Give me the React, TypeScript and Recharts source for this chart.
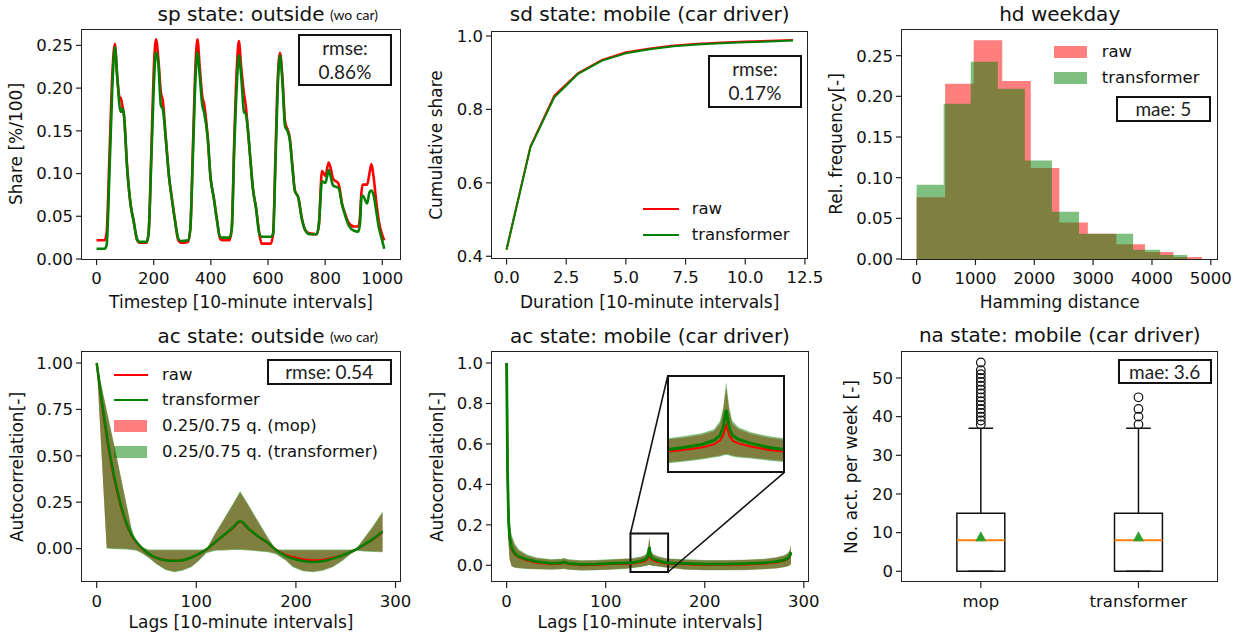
import React from 'react';
import { ComposedChart, Line, Area, XAxis, YAxis, ReferenceArea, ReferenceLine, Scatter } from 'recharts';

const FONT = '"DejaVu Sans", Verdana, sans-serif';
const NOTE_FONT = 'Lato, "Open Sans", sans-serif';
const RED = '#ff0000';
const GREEN = '#008000';
const INK = '#111';

// ---------- Panel 1: sp state: outside ----------
const spTimestep = [0, 28, 35, 45, 55, 64, 72, 80, 85, 90, 96, 107, 119, 130, 142, 150, 175, 182, 192, 200, 208, 216, 225, 232, 242, 254, 263, 275, 286, 295, 320, 328, 338, 346, 353, 361, 370, 376, 389, 399, 410, 422, 432, 440, 465, 473, 482, 491, 498, 506, 516, 522, 530, 537, 547, 558, 570, 578, 610, 618, 626, 634, 642, 650, 660, 668, 676, 686, 694, 706, 718, 730, 745, 770, 778, 789, 801, 812, 818, 828, 847, 859, 871, 883, 901, 916, 922, 927, 932, 947, 955, 962, 970, 978, 988, 1000, 1007];
const spRaw = [0.022, 0.022, 0.030, 0.120, 0.215, 0.252, 0.215, 0.190, 0.188, 0.180, 0.168, 0.107, 0.064, 0.044, 0.022, 0.019, 0.019, 0.030, 0.130, 0.220, 0.257, 0.235, 0.195, 0.185, 0.142, 0.095, 0.072, 0.044, 0.022, 0.019, 0.020, 0.035, 0.140, 0.225, 0.257, 0.225, 0.190, 0.182, 0.142, 0.095, 0.072, 0.044, 0.024, 0.022, 0.022, 0.035, 0.140, 0.225, 0.255, 0.225, 0.193, 0.180, 0.150, 0.122, 0.083, 0.060, 0.029, 0.018, 0.018, 0.030, 0.120, 0.210, 0.241, 0.215, 0.160, 0.152, 0.142, 0.107, 0.080, 0.072, 0.048, 0.034, 0.030, 0.029, 0.040, 0.103, 0.097, 0.113, 0.108, 0.094, 0.088, 0.065, 0.052, 0.042, 0.038, 0.038, 0.050, 0.078, 0.087, 0.087, 0.100, 0.111, 0.095, 0.070, 0.044, 0.028, 0.022];
const spTransformer = [0.012, 0.012, 0.016, 0.100, 0.200, 0.248, 0.215, 0.180, 0.172, 0.176, 0.168, 0.107, 0.064, 0.044, 0.023, 0.020, 0.020, 0.030, 0.120, 0.200, 0.242, 0.230, 0.180, 0.175, 0.142, 0.095, 0.072, 0.044, 0.024, 0.021, 0.022, 0.035, 0.130, 0.210, 0.242, 0.215, 0.180, 0.172, 0.142, 0.095, 0.072, 0.044, 0.026, 0.025, 0.025, 0.035, 0.130, 0.205, 0.238, 0.215, 0.172, 0.170, 0.150, 0.122, 0.083, 0.060, 0.029, 0.026, 0.026, 0.030, 0.110, 0.200, 0.238, 0.210, 0.155, 0.150, 0.140, 0.105, 0.080, 0.072, 0.048, 0.034, 0.029, 0.029, 0.040, 0.091, 0.089, 0.104, 0.098, 0.086, 0.083, 0.064, 0.050, 0.039, 0.033, 0.032, 0.042, 0.072, 0.074, 0.065, 0.078, 0.080, 0.074, 0.058, 0.037, 0.021, 0.012];
const spXTicks = [0, 200, 400, 600, 800, 1000];
const spYTicks = [0, 0.05, 0.1, 0.15, 0.2, 0.25];

// ---------- Panel 2: sd state: mobile (car driver) ----------
const sdDuration = [0, 1, 2, 3, 4, 5, 6, 7, 8, 9, 10, 11, 12];
const sdRaw = [0.419, 0.699, 0.838, 0.899, 0.935, 0.956, 0.966, 0.974, 0.979, 0.982, 0.985, 0.987, 0.989];
const sdTransformer = [0.418, 0.697, 0.833, 0.897, 0.933, 0.953, 0.964, 0.972, 0.977, 0.980, 0.983, 0.985, 0.988];
const sdXTicks = [0, 2.5, 5, 7.5, 10, 12.5];
const sdYTicks = [0.4, 0.6, 0.8, 1.0];

// ---------- Panel 3: hd weekday (histograms) ----------
const hdRawEdges = [0, 485, 970, 1455, 1940, 2425, 2910, 3395, 3880, 4365, 4850];
const hdRawFreq = [0.076, 0.2155, 0.269, 0.219, 0.112, 0.045, 0.031, 0.018, 0.0086, 0.0025];
const hdTrEdges = [0, 460, 920, 1380, 1840, 2300, 2760, 3220, 3680, 4140, 4600];
const hdTrFreq = [0.0914, 0.191, 0.2426, 0.2094, 0.121, 0.058, 0.031, 0.031, 0.0115, 0.005];
const hdXTicks = [0, 1000, 2000, 3000, 4000, 5000];
const hdYTicks = [0, 0.05, 0.1, 0.15, 0.2, 0.25];

// ---------- Panel 4: ac state: outside ----------
const acOutLag = [0, 5, 10, 15, 20, 25, 30, 35, 40, 45, 52, 60, 69, 78, 86, 95, 102, 110, 119, 128, 137, 144, 152, 163, 172, 180, 190, 197, 207, 217, 227, 237, 247, 255, 260, 268, 278, 287];
const acOutRawMean = [1.0, 0.79, 0.605, 0.445, 0.318, 0.212, 0.13, 0.072, 0.033, 0.004, -0.028, -0.05, -0.062, -0.065, -0.062, -0.047, -0.03, -0.005, 0.034, 0.073, 0.112, 0.145, 0.108, 0.062, 0.03, -0.006, -0.035, -0.046, -0.058, -0.063, -0.06, -0.05, -0.035, -0.018, -0.006, 0.018, 0.052, 0.09];
const acOutTrMean = [1.0, 0.80, 0.62, 0.46, 0.33, 0.22, 0.135, 0.075, 0.035, 0.005, -0.027, -0.05, -0.063, -0.066, -0.063, -0.048, -0.03, -0.005, 0.035, 0.075, 0.115, 0.149, 0.11, 0.063, 0.03, -0.008, -0.04, -0.054, -0.067, -0.072, -0.068, -0.054, -0.036, -0.018, -0.005, 0.02, 0.055, 0.093];
const acOutRawLo = [1.0, 0.5, 0.004, 0.002, 0.001, 0.0, -0.001, -0.004, -0.008, -0.021, -0.046, -0.081, -0.111, -0.123, -0.116, -0.096, -0.066, -0.021, -0.008, -0.006, -0.004, -0.004, -0.006, -0.011, -0.016, -0.026, -0.061, -0.096, -0.118, -0.124, -0.116, -0.096, -0.061, -0.026, -0.008, -0.011, -0.014, -0.016];
const acOutRawHi = [1.0, 0.865, 0.74, 0.615, 0.49, 0.36, 0.23, 0.1, 0.024, 0.004, -0.009, -0.009, -0.009, -0.009, -0.009, -0.009, -0.009, -0.007, 0.078, 0.158, 0.238, 0.302, 0.234, 0.134, 0.054, -0.009, -0.009, -0.009, -0.009, -0.009, -0.009, -0.009, -0.009, -0.009, -0.007, 0.049, 0.121, 0.194];
const acOutTrLo = [1.0, 0.5, 0.0, -0.002, -0.003, -0.004, -0.005, -0.008, -0.012, -0.025, -0.05, -0.085, -0.115, -0.127, -0.12, -0.1, -0.07, -0.025, -0.012, -0.01, -0.008, -0.008, -0.01, -0.015, -0.02, -0.03, -0.065, -0.1, -0.122, -0.128, -0.12, -0.1, -0.065, -0.03, -0.012, -0.015, -0.018, -0.02];
const acOutTrHi = [1.0, 0.875, 0.75, 0.625, 0.5, 0.37, 0.24, 0.11, 0.03, 0.01, -0.005, -0.005, -0.005, -0.005, -0.005, -0.005, -0.005, -0.003, 0.084, 0.164, 0.244, 0.31, 0.24, 0.14, 0.06, -0.005, -0.005, -0.005, -0.005, -0.005, -0.005, -0.005, -0.005, -0.005, -0.003, 0.055, 0.127, 0.2];
const acXTicks = [0, 100, 200, 300];
const acOutYTicks = [0, 0.25, 0.5, 0.75, 1.0];

// ---------- Panel 5: ac state: mobile (car driver) ----------
const acMobLag = [0, 1, 2, 3, 5, 8, 12, 20, 30, 45, 55, 58, 62, 75, 90, 105, 120, 125, 130, 136, 140, 142, 143, 144, 145, 146, 148, 152, 158, 163, 170, 180, 200, 220, 240, 260, 272, 280, 284, 286, 287];
const acMobTrMean = [1.0, 0.45, 0.22, 0.14, 0.09, 0.06, 0.045, 0.03, 0.018, 0.01, 0.012, 0.016, 0.01, 0.005, 0.006, 0.01, 0.012, 0.012, 0.016, 0.022, 0.03, 0.04, 0.055, 0.09, 0.055, 0.04, 0.032, 0.024, 0.016, 0.012, 0.01, 0.01, 0.006, 0.006, 0.008, 0.012, 0.018, 0.026, 0.036, 0.048, 0.065];
const acMobRawMean = [1.0, 0.44, 0.21, 0.13, 0.08, 0.055, 0.04, 0.025, 0.012, 0.005, 0.008, 0.013, 0.006, 0.0, 0.002, 0.006, 0.008, 0.008, 0.011, 0.016, 0.022, 0.03, 0.04, 0.06, 0.04, 0.03, 0.024, 0.018, 0.011, 0.008, 0.006, 0.005, 0.002, 0.003, 0.004, 0.008, 0.014, 0.022, 0.032, 0.044, 0.06];
const acMobTrLo = [1.0, 0.3, 0.1, 0.03, -0.005, -0.012, -0.015, -0.018, -0.02, -0.022, -0.02, -0.018, -0.022, -0.026, -0.025, -0.022, -0.018, -0.015, -0.012, -0.008, -0.004, -0.002, 0.0, 0.001, 0.0, -0.002, -0.004, -0.006, -0.01, -0.013, -0.016, -0.022, -0.025, -0.025, -0.024, -0.02, -0.016, -0.01, -0.006, 0.0, 0.005];
const acMobTrHi = [1.0, 0.6, 0.33, 0.22, 0.15, 0.11, 0.08, 0.055, 0.038, 0.03, 0.032, 0.036, 0.03, 0.025, 0.026, 0.03, 0.034, 0.034, 0.038, 0.044, 0.052, 0.068, 0.095, 0.145, 0.095, 0.068, 0.056, 0.046, 0.038, 0.034, 0.032, 0.03, 0.026, 0.026, 0.028, 0.032, 0.04, 0.05, 0.062, 0.078, 0.1];
const acMobRawLo = [1.0, 0.3, 0.1, 0.03, -0.004, -0.01, -0.013, -0.016, -0.018, -0.02, -0.018, -0.016, -0.02, -0.024, -0.023, -0.02, -0.016, -0.013, -0.01, -0.006, -0.002, 0.0, 0.002, 0.003, 0.002, 0.0, -0.002, -0.004, -0.008, -0.011, -0.014, -0.02, -0.023, -0.023, -0.022, -0.018, -0.014, -0.008, -0.004, 0.002, 0.007];
const acMobRawHi = [1.0, 0.58, 0.32, 0.21, 0.14, 0.10, 0.075, 0.05, 0.035, 0.028, 0.03, 0.034, 0.028, 0.022, 0.024, 0.028, 0.032, 0.032, 0.035, 0.041, 0.048, 0.063, 0.088, 0.135, 0.088, 0.063, 0.052, 0.043, 0.035, 0.031, 0.03, 0.028, 0.024, 0.024, 0.026, 0.03, 0.037, 0.047, 0.058, 0.074, 0.095];
const acMobYTicks = [0, 0.2, 0.4, 0.6, 0.8, 1.0];

// ---------- Panel 6: na state: mobile (car driver) ----------
const naCategories = ['mop', 'transformer'];
const naQ1 = [0, 0];
const naMedian = [8, 8];
const naQ3 = [15, 15];
const naWhiskerLo = [0, 0];
const naWhiskerHi = [37, 37];
const naMean = [8.7, 8.7];
const naOutliersMop = [38, 39, 40, 41, 42, 43, 44, 45, 46, 47, 48, 49, 50, 51, 52, 54];
const naOutliersTransformer = [38, 40, 42, 45];
const naYTicks = [0, 10, 20, 30, 40, 50];

// ---------- derived tables ----------
const spData = spTimestep.map((t, i) => ({ x: t, raw: spRaw[i], tr: spTransformer[i] }));
const sdData = sdDuration.map((d, i) => ({ x: d, raw: sdRaw[i], tr: sdTransformer[i] }));
const hdData = Array.from(new Set([...hdRawEdges, ...hdTrEdges]))
  .sort((a, b) => a - b)
  .map((x) => {
    const ri = hdRawEdges.indexOf(x);
    const ti = hdTrEdges.indexOf(x);
    return {
      x,
      raw: ri < 0 ? null : hdRawFreq[Math.min(ri, hdRawFreq.length - 1)],
      tr: ti < 0 ? null : hdTrFreq[Math.min(ti, hdTrFreq.length - 1)],
    };
  });
const acOutData = acOutLag.map((l, i) => ({
  x: l,
  raw: acOutRawMean[i],
  tr: acOutTrMean[i],
  rawBand: [acOutRawLo[i], acOutRawHi[i]],
  trBand: [acOutTrLo[i], acOutTrHi[i]],
}));
const acMobData = acMobLag.map((l, i) => ({
  x: l,
  raw: acMobRawMean[i],
  tr: acMobTrMean[i],
  rawBand: [acMobRawLo[i], acMobRawHi[i]],
  trBand: [acMobTrLo[i], acMobTrHi[i]],
}));
const naPositions = naCategories.map((_, i) => i + 1);
const naOutlierPoints = [
  ...naOutliersMop.map((y) => ({ x: 1, y })),
  ...naOutliersTransformer.map((y) => ({ x: 2, y })),
];
const naMeanPoints = naMean.map((y, i) => ({ x: naPositions[i], y }));

// ---------- layout ----------
type Box = { x0: number; y0: number; x1: number; y1: number };
const B1: Box = { x0: 82, y0: 29.3, x1: 400, y1: 259.3 };
const B2: Box = { x0: 492, y0: 31.7, x1: 807.3, y1: 258.3 };
const B3: Box = { x0: 902, y0: 29.3, x1: 1217.3, y1: 259.3 };
const B4: Box = { x0: 82, y0: 351.7, x1: 400, y1: 581.7 };
const B5: Box = { x0: 492, y0: 351.7, x1: 808.3, y1: 581.7 };
const B6: Box = { x0: 902, y0: 351.7, x1: 1217.3, y1: 581.7 };

const D1x: [number, number] = [-51, 1062];
const D1y: [number, number] = [0, 0.2692];
const D2x: [number, number] = [-0.61, 12.6];
const D2y: [number, number] = [0.3937, 1.0109];
const D3x: [number, number] = [-248, 5110];
const D3y: [number, number] = [0, 0.2828];
const D4x: [number, number] = [-14.75, 304.5];
const D4y: [number, number] = [-0.18, 1.0593];
const D5y: [number, number] = [-0.0825, 1.0544];
const D6x: [number, number] = [0.5, 2.5];
const D6y: [number, number] = [-2.77, 56.72];

// zoom region of panel 5 and its inset location (data coords of panel 5)
const ZOOM_X: [number, number] = [125, 163];
const ZOOM_Y: [number, number] = [-0.033, 0.157];
const INSET_X: [number, number] = [162.5, 280];
const INSET_Y: [number, number] = [0.458, 0.934];

const YW = 70;
const XH = 50;
const MT = 10;
const MR = 28;
const TICK = { fontSize: 16.5, fontFamily: FONT, fill: INK };
const TICKLINE = { stroke: '#222', strokeWidth: 1.2 };

const f2 = (v: number) => v.toFixed(2);
const f1 = (v: number) => v.toFixed(1);
const f0 = (v: number) => String(Math.round(v));

function xAxis(domain: [number, number], ticks: number[], fmt: (v: number) => string) {
  return (
    <XAxis
      type="number"
      dataKey="x"
      domain={domain}
      ticks={ticks}
      allowDataOverflow
      interval={0}
      tickFormatter={fmt}
      height={XH}
      axisLine={false}
      tickLine={TICKLINE}
      tickSize={6}
      tickMargin={7}
      tick={TICK}
    />
  );
}

function yAxis(domain: [number, number], ticks: number[], fmt: (v: number) => string, dataKey?: string) {
  return (
    <YAxis
      type="number"
      dataKey={dataKey}
      domain={domain}
      ticks={ticks}
      allowDataOverflow
      interval={0}
      tickFormatter={fmt}
      width={YW}
      axisLine={false}
      tickLine={TICKLINE}
      tickSize={6}
      tickMargin={3}
      tick={TICK}
    />
  );
}

function Plot({ b, data, children }: { b: Box; data?: any[]; children: React.ReactNode }) {
  const width = b.x1 - b.x0 + YW + MR;
  const height = b.y1 - b.y0 + MT + XH;
  return (
    <div style={{ position: 'absolute', left: b.x0 - YW, top: b.y0 - MT, width, height }}>
      <ComposedChart width={width} height={height} data={data} margin={{ top: MT, right: MR, bottom: 0, left: 0 }}>
        {children}
      </ComposedChart>
    </div>
  );
}

function Frame({ b }: { b: Box }) {
  return (
    <div
      style={{
        position: 'absolute',
        left: b.x0 - 0.6,
        top: b.y0 - 0.6,
        width: b.x1 - b.x0 + 1.2,
        height: b.y1 - b.y0 + 1.2,
        border: '1.2px solid #222',
        boxSizing: 'border-box',
        pointerEvents: 'none',
      }}
    />
  );
}

function Txt({ x, y, size, children, rotate, anchor = 'middle', font = FONT }: { x: number; y: number; size: number; children: React.ReactNode; rotate?: boolean; anchor?: 'middle' | 'start'; font?: string }) {
  const tx = anchor === 'middle' ? '-50%' : '0';
  return (
    <div
      style={{
        position: 'absolute',
        left: x,
        top: y,
        transform: `translate(${tx}, -50%)${rotate ? ' rotate(-90deg)' : ''}`,
        fontFamily: font,
        fontSize: size,
        lineHeight: 1.15,
        whiteSpace: 'nowrap',
        color: INK,
      }}
    >
      {children}
    </div>
  );
}

function Note({ left, top, width, height, lines }: { left: number; top: number; width: number; height: number; lines: string[] }) {
  return (
    <div
      style={{
        position: 'absolute',
        left,
        top,
        width,
        height,
        border: '2px solid #111',
        boxSizing: 'border-box',
        background: '#fff',
        display: 'flex',
        flexDirection: 'column',
        alignItems: 'center',
        justifyContent: 'center',
        fontFamily: NOTE_FONT,
        fontSize: 19,
        lineHeight: '24px',
        color: '#222',
      }}
    >
      {lines.map((l) => (
        <div key={l}>{l}</div>
      ))}
    </div>
  );
}

function LegendLine({ x, y, color, w = 34 }: { x: number; y: number; color: string; w?: number }) {
  return <div style={{ position: 'absolute', left: x, top: y - 1.2, width: w, height: 2.4, background: color }} />;
}
function LegendPatch({ x, y, color, w = 33 }: { x: number; y: number; color: string; w?: number }) {
  return <div style={{ position: 'absolute', left: x, top: y - 6, width: w, height: 12, background: color }} />;
}

const px5 = (lag: number) => B5.x0 + ((lag - D4x[0]) / (D4x[1] - D4x[0])) * (B5.x1 - B5.x0);
const py5 = (v: number) => B5.y0 + ((D5y[1] - v) / (D5y[1] - D5y[0])) * (B5.y1 - B5.y0);

const triangle = (p: any) => (
  <polygon points={`${p.cx},${p.cy - 6.5} ${p.cx - 5.5},${p.cy + 3.5} ${p.cx + 5.5},${p.cy + 3.5}`} fill="#2ca02c" />
);
const ring = (p: any) => <circle cx={p.cx} cy={p.cy} r={4.3} fill="none" stroke="#111" strokeWidth={1.2} />;

export default function App() {
  const insetLeft = px5(INSET_X[0]);
  const insetTop = py5(INSET_Y[1]);
  const insetW = px5(INSET_X[1]) - insetLeft;
  const insetH = py5(INSET_Y[0]) - insetTop;
  const BOX_HALF = 0.152;
  const CAP_HALF = 0.078;

  return (
    <div style={{ position: 'absolute', left: 0, top: 0, width: 1246, height: 641, background: '#fff', overflow: 'hidden' }}>
      {/* ---------- Panel 1 ---------- */}
      <Plot b={B1} data={spData}>
        {xAxis(D1x, spXTicks, f0)}
        {yAxis(D1y, spYTicks, f2)}
        <Line type="monotone" dataKey="raw" stroke={RED} strokeWidth={2.6} dot={false} activeDot={false} isAnimationActive={false} />
        <Line type="monotone" dataKey="tr" stroke={GREEN} strokeWidth={2.6} dot={false} activeDot={false} isAnimationActive={false} />
      </Plot>
      <Frame b={B1} />
      <Txt x={241} y={14} size={20}>sp state: outside</Txt>
      <Txt x={330} y={15} size={14} anchor="start" font={NOTE_FONT}>(wo car)</Txt>
      <Txt x={241} y={303.3} size={17}>Timestep [10-minute intervals]</Txt>
      <Txt x={16.7} y={144.3} size={17} rotate>Share [%/100]</Txt>
      <Note left={297.7} top={34} width={94.6} height={51.7} lines={['rmse:', '0.86%']} />

      {/* ---------- Panel 2 ---------- */}
      <Plot b={B2} data={sdData}>
        {xAxis(D2x, sdXTicks, f1)}
        {yAxis(D2y, sdYTicks, f1)}
        <Line type="linear" dataKey="raw" stroke={RED} strokeWidth={2} dot={false} activeDot={false} isAnimationActive={false} />
        <Line type="linear" dataKey="tr" stroke={GREEN} strokeWidth={2} dot={false} activeDot={false} isAnimationActive={false} />
      </Plot>
      <Frame b={B2} />
      <Txt x={649.7} y={14} size={20}>sd state: mobile (car driver)</Txt>
      <Txt x={649.7} y={303.3} size={17}>Duration [10-minute intervals]</Txt>
      <Txt x={436.7} y={145} size={17} rotate>Cumulative share</Txt>
      <Note left={707.7} top={55} width={94.6} height={52.7} lines={['rmse:', '0.17%']} />
      <LegendLine x={643} y={209} color={RED} w={36} />
      <LegendLine x={643} y={235} color={GREEN} w={36} />
      <Txt x={691.7} y={209} size={16.5} anchor="start">raw</Txt>
      <Txt x={691.7} y={235} size={16.5} anchor="start">transformer</Txt>

      {/* ---------- Panel 3 ---------- */}
      <Plot b={B3} data={hdData}>
        {xAxis(D3x, hdXTicks, f0)}
        {yAxis(D3y, hdYTicks, f2)}
        <Area type="stepAfter" dataKey="raw" connectNulls fill={RED} fillOpacity={0.5} stroke="none" isAnimationActive={false} />
        <Area type="stepAfter" dataKey="tr" connectNulls fill={GREEN} fillOpacity={0.5} stroke="none" isAnimationActive={false} />
      </Plot>
      <Frame b={B3} />
      <Txt x={1059.7} y={14} size={20}>hd weekday</Txt>
      <Txt x={1059.7} y={303.3} size={17}>Hamming distance</Txt>
      <Txt x={836.7} y={144.3} size={17} rotate>Rel. frequency[-]</Txt>
      <LegendPatch x={1054.3} y={52.3} color="rgba(255,0,0,0.5)" />
      <LegendPatch x={1054.3} y={77.7} color="rgba(0,128,0,0.5)" />
      <Txt x={1101.7} y={52.3} size={16.5} anchor="start">raw</Txt>
      <Txt x={1101.7} y={77.7} size={16.5} anchor="start">transformer</Txt>
      <Note left={1116} top={96} width={94.7} height={25.7} lines={['mae: 5']} />

      {/* ---------- Panel 4 ---------- */}
      <Plot b={B4} data={acOutData}>
        {xAxis(D4x, acXTicks, f0)}
        {yAxis(D4y, acOutYTicks, f2)}
        <Area type="linear" dataKey="rawBand" fill={RED} fillOpacity={0.5} stroke="none" isAnimationActive={false} />
        <Area type="linear" dataKey="trBand" fill={GREEN} fillOpacity={0.5} stroke="none" isAnimationActive={false} />
        <Line type="monotone" dataKey="raw" stroke={RED} strokeWidth={2.2} dot={false} activeDot={false} isAnimationActive={false} />
        <Line type="monotone" dataKey="tr" stroke={GREEN} strokeWidth={2.5} dot={false} activeDot={false} isAnimationActive={false} />
      </Plot>
      <Frame b={B4} />
      <Txt x={241} y={336} size={20}>ac state: outside</Txt>
      <Txt x={330} y={337} size={14} anchor="start" font={NOTE_FONT}>(wo car)</Txt>
      <Txt x={241} y={623.3} size={17}>Lags [10-minute intervals]</Txt>
      <Txt x={18.3} y={466.7} size={17} rotate>Autocorrelation[-]</Txt>
      <Note left={266.7} top={359.3} width={125} height={25.7} lines={['rmse: 0.54']} />
      <LegendLine x={113.7} y={375} color={RED} />
      <LegendLine x={113.7} y={400} color={GREEN} />
      <LegendPatch x={113.7} y={426} color="rgba(255,0,0,0.5)" />
      <LegendPatch x={113.7} y={451.7} color="rgba(0,128,0,0.5)" />
      <Txt x={162} y={375} size={16.5} anchor="start">raw</Txt>
      <Txt x={162} y={400} size={16.5} anchor="start">transformer</Txt>
      <Txt x={162} y={426} size={16.5} anchor="start">0.25/0.75 q. (mop)</Txt>
      <Txt x={162} y={451.7} size={16.5} anchor="start">0.25/0.75 q. (transformer)</Txt>

      {/* ---------- Panel 5 ---------- */}
      <Plot b={B5} data={acMobData}>
        {xAxis(D4x, acXTicks, f0)}
        {yAxis(D5y, acMobYTicks, f1)}
        <Area type="linear" dataKey="rawBand" fill={RED} fillOpacity={0.5} stroke="none" isAnimationActive={false} />
        <Area type="linear" dataKey="trBand" fill={GREEN} fillOpacity={0.5} stroke="none" isAnimationActive={false} />
        <Line type="linear" dataKey="raw" stroke={RED} strokeWidth={2} dot={false} activeDot={false} isAnimationActive={false} />
        <Line type="linear" dataKey="tr" stroke={GREEN} strokeWidth={2.8} dot={false} activeDot={false} isAnimationActive={false} />
        <ReferenceArea x1={ZOOM_X[0]} x2={ZOOM_X[1]} y1={ZOOM_Y[0]} y2={ZOOM_Y[1]} fill="none" fillOpacity={0} stroke="#111" strokeWidth={2} ifOverflow="visible" />
        <ReferenceLine segment={[{ x: ZOOM_X[0], y: ZOOM_Y[1] }, { x: INSET_X[0], y: INSET_Y[1] }]} stroke="#111" strokeWidth={1.6} ifOverflow="visible" />
        <ReferenceLine segment={[{ x: ZOOM_X[1], y: ZOOM_Y[0] }, { x: INSET_X[1], y: INSET_Y[0] }]} stroke="#111" strokeWidth={1.6} ifOverflow="visible" />
      </Plot>
      <Frame b={B5} />
      <div style={{ position: 'absolute', left: insetLeft, top: insetTop, width: insetW, height: insetH, background: '#fff' }}>
        <ComposedChart width={insetW} height={insetH} data={acMobData} margin={{ top: 0, right: 0, bottom: 0, left: 0 }}>
          <XAxis type="number" dataKey="x" domain={ZOOM_X} allowDataOverflow hide />
          <YAxis type="number" domain={ZOOM_Y} allowDataOverflow hide />
          <Area type="linear" dataKey="rawBand" fill={RED} fillOpacity={0.5} stroke="none" isAnimationActive={false} />
          <Area type="linear" dataKey="trBand" fill={GREEN} fillOpacity={0.5} stroke="none" isAnimationActive={false} />
          <Line type="linear" dataKey="raw" stroke={RED} strokeWidth={2} dot={false} activeDot={false} isAnimationActive={false} />
          <Line type="linear" dataKey="tr" stroke={GREEN} strokeWidth={3} dot={false} activeDot={false} isAnimationActive={false} />
        </ComposedChart>
        <div style={{ position: 'absolute', left: -1, top: -1, width: insetW + 2, height: insetH + 2, border: '2px solid #111', boxSizing: 'border-box' }} />
      </div>
      <Txt x={650} y={336} size={20}>ac state: mobile (car driver)</Txt>
      <Txt x={650} y={623.3} size={17}>Lags [10-minute intervals]</Txt>
      <Txt x={438.3} y={466.7} size={17} rotate>Autocorrelation[-]</Txt>

      {/* ---------- Panel 6 ---------- */}
      <Plot b={B6} data={naOutlierPoints}>
        {xAxis(D6x, naPositions, (v) => naCategories[Math.round(v) - 1] ?? '')}
        {yAxis(D6y, naYTicks, f0, 'y')}
        {naPositions.map((p, i) => (
          <ReferenceLine key={`wl${i}`} segment={[{ x: p, y: naWhiskerLo[i] }, { x: p, y: naQ1[i] }]} stroke="#111" strokeWidth={1.5} />
        ))}
        {naPositions.map((p, i) => (
          <ReferenceLine key={`wh${i}`} segment={[{ x: p, y: naQ3[i] }, { x: p, y: naWhiskerHi[i] }]} stroke="#111" strokeWidth={1.5} />
        ))}
        {naPositions.map((p, i) => (
          <ReferenceLine key={`ch${i}`} segment={[{ x: p - CAP_HALF, y: naWhiskerHi[i] }, { x: p + CAP_HALF, y: naWhiskerHi[i] }]} stroke="#111" strokeWidth={1.5} />
        ))}
        {naPositions.map((p, i) => (
          <ReferenceLine key={`cl${i}`} segment={[{ x: p - CAP_HALF, y: naWhiskerLo[i] }, { x: p + CAP_HALF, y: naWhiskerLo[i] }]} stroke="#111" strokeWidth={1.5} />
        ))}
        {naPositions.map((p, i) => (
          <ReferenceArea key={`bx${i}`} x1={p - BOX_HALF} x2={p + BOX_HALF} y1={naQ1[i]} y2={naQ3[i]} fill="none" fillOpacity={0} stroke="#111" strokeWidth={1.5} strokeOpacity={1} />
        ))}
        {naPositions.map((p, i) => (
          <ReferenceLine key={`md${i}`} segment={[{ x: p - BOX_HALF, y: naMedian[i] }, { x: p + BOX_HALF, y: naMedian[i] }]} stroke="#ff7f0e" strokeWidth={2} />
        ))}
        <Scatter data={naOutlierPoints} dataKey="y" shape={ring} isAnimationActive={false} />
        <Scatter data={naMeanPoints} dataKey="y" shape={triangle} isAnimationActive={false} />
      </Plot>
      <Frame b={B6} />
      <Txt x={1059.7} y={335} size={20}>na state: mobile (car driver)</Txt>
      <Txt x={851.7} y={466.7} size={17} rotate>No. act. per week [-]</Txt>
      <Note left={1117.7} top={359} width={94} height={25} lines={['mae: 3.6']} />
    </div>
  );
}
